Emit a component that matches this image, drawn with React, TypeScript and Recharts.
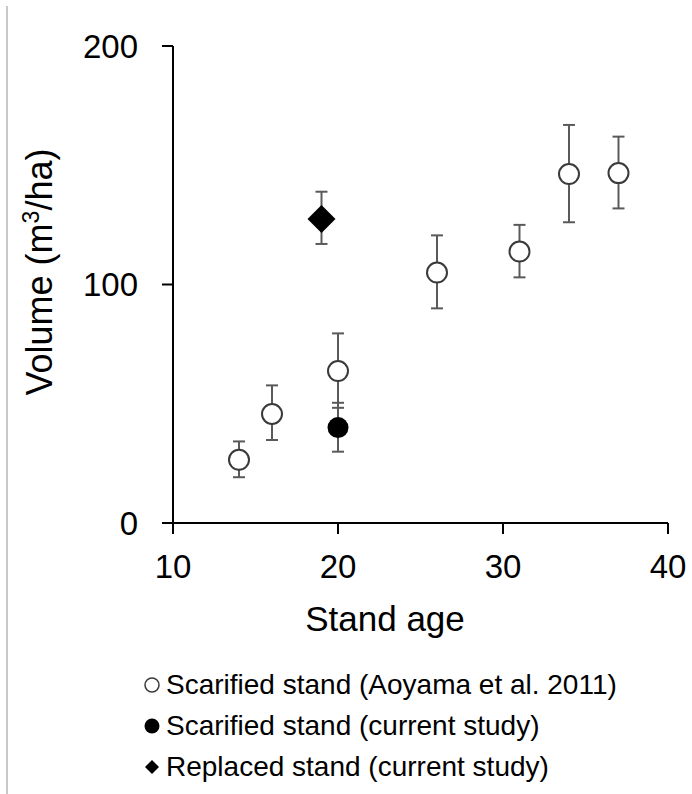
import { ScatterChart, Scatter, XAxis, YAxis, ErrorBar } from "recharts";

// Scarified stand (Aoyama et al. 2011)
const aoyamaAge = [14, 16, 20, 26, 31, 34, 37];
const aoyamaVolume = [26.5, 45.7, 63.7, 105, 113.8, 146.3, 146.7];
const aoyamaUpper = [34.2, 57.7, 79.5, 120.6, 125, 166.9, 162];
const aoyamaLower = [19.2, 34.8, 48.3, 90, 103, 126.1, 131.9];

// Scarified stand (current study)
const currentAge = [20];
const currentVolume = [40];
const currentUpper = [50.4];
const currentLower = [29.9];

// Replaced stand (current study)
const replacedAge = [19];
const replacedVolume = [127.5];
const replacedUpper = [138.9];
const replacedLower = [117];

const xTicks = [10, 20, 30, 40];
const yTicks = [0, 100, 200];

const FONT = '"Liberation Sans", Arial, sans-serif';
const BAR_COLOR = "#5a5a5a";

function toRows(age: number[], vol: number[], upper: number[], lower: number[]) {
  return age.map((a, i) => ({
    age: a,
    volume: vol[i],
    err: [vol[i] - lower[i], upper[i] - vol[i]],
  }));
}

const aoyamaData = toRows(aoyamaAge, aoyamaVolume, aoyamaUpper, aoyamaLower);
const currentData = toRows(currentAge, currentVolume, currentUpper, currentLower);
const replacedData = toRows(replacedAge, replacedVolume, replacedUpper, replacedLower);

const OpenCircle = (p: any) => (
  <circle cx={p.cx} cy={p.cy} r={10} fill="#fff" stroke="#3a3a3a" strokeWidth={2} />
);
const FilledCircle = (p: any) => <circle cx={p.cx} cy={p.cy} r={10.5} fill="#000" />;
const Diamond = (p: any) => (
  <polygon
    points={`${p.cx},${p.cy - 14} ${p.cx + 14},${p.cy} ${p.cx},${p.cy + 14} ${p.cx - 14},${p.cy}`}
    fill="#000"
  />
);

const axisStroke = { stroke: "#000", strokeWidth: 2 };

export default function App() {
  return (
    <div style={{ position: "absolute", left: 0, top: 0, width: 692, height: 794, background: "#fff", fontFamily: FONT }}>
      <div style={{ position: "absolute", left: 6, top: 6, width: 1.5, height: 788, background: "#c8c8c8" }} />
      <ScatterChart width={692} height={794} margin={{ top: 46, right: 24, bottom: 211, left: 93 }}>
        <XAxis
          type="number"
          dataKey="age"
          domain={[10, 40]}
          ticks={xTicks}
          height={60}
          tickSize={11}
          tickMargin={21}
          axisLine={axisStroke}
          tickLine={axisStroke}
          tick={{ fontSize: 33, fill: "#000", fontFamily: FONT }}
          label={{
            content: () => (
              <text x={385} y={631} textAnchor="middle" fontSize={35} fill="#000" fontFamily={FONT}>
                Stand age
              </text>
            ),
          }}
        />
        <YAxis
          type="number"
          dataKey="volume"
          domain={[0, 200]}
          ticks={yTicks}
          width={80}
          tickSize={11}
          tickMargin={24}
          axisLine={axisStroke}
          tickLine={axisStroke}
          tick={{ fontSize: 33, fill: "#000", fontFamily: FONT }}
          label={{
            content: () => (
              <text
                transform="translate(52, 272) rotate(-90)"
                textAnchor="middle"
                fontSize={36}
                fill="#000"
                fontFamily={FONT}
              >
                Volume (m
                <tspan fontSize={23} dy={-13}>3</tspan>
                <tspan dy={13}>/ha)</tspan>
              </text>
            ),
          }}
        />
        <Scatter data={aoyamaData} shape={OpenCircle} isAnimationActive={false}>
          <ErrorBar dataKey="err" direction="y" width={6} stroke={BAR_COLOR} strokeWidth={2} />
        </Scatter>
        <Scatter data={currentData} shape={FilledCircle} isAnimationActive={false}>
          <ErrorBar dataKey="err" direction="y" width={6} stroke={BAR_COLOR} strokeWidth={2} />
        </Scatter>
        <Scatter data={replacedData} shape={Diamond} isAnimationActive={false}>
          <ErrorBar dataKey="err" direction="y" width={6} stroke={BAR_COLOR} strokeWidth={2} />
        </Scatter>
      </ScatterChart>
      <div style={{ position: "absolute", left: 142, top: 664, fontSize: 28, lineHeight: "41px", color: "#000" }}>
        <div style={{ display: "flex", alignItems: "center" }}>
          <svg width={20} height={20} style={{ marginRight: 4 }}>
            <circle cx={10} cy={10} r={7} fill="#fff" stroke="#3a3a3a" strokeWidth={1.5} />
          </svg>
          Scarified stand (Aoyama et al. 2011)
        </div>
        <div style={{ display: "flex", alignItems: "center" }}>
          <svg width={20} height={20} style={{ marginRight: 4 }}>
            <circle cx={10} cy={10} r={7.5} fill="#000" />
          </svg>
          Scarified stand (current study)
        </div>
        <div style={{ display: "flex", alignItems: "center" }}>
          <svg width={20} height={20} style={{ marginRight: 4 }}>
            <polygon points="10,3 17,10 10,17 3,10" fill="#000" />
          </svg>
          Replaced stand (current study)
        </div>
      </div>
    </div>
  );
}
